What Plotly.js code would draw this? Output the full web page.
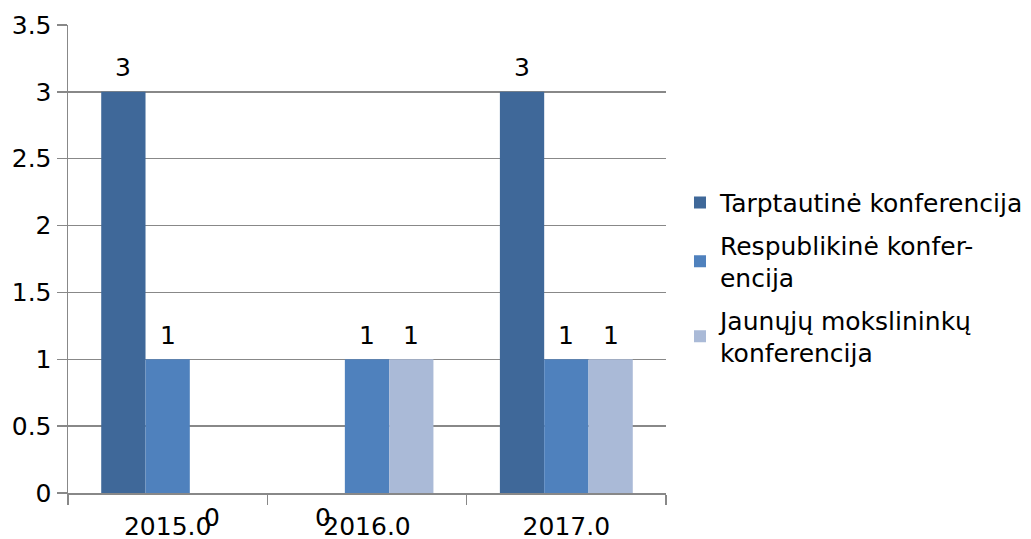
<!DOCTYPE html>
<html>
<head>
<meta charset="utf-8">
<script src="https://cdn.plot.ly/plotly-3.0.1.min.js"></script>
<style>html,body{margin:0;padding:0;background:#fff;}#chart{width:1031px;height:539px;}</style>
</head>
<body>
<div id="chart"></div>
<script>
const categories = ['2015.0', '2016.0', '2017.0'];
const seriesNames = ['Tarptautinė konferencija', 'Respublikinė konfer-<br>encija', 'Jaunųjų mokslininkų<br>konferencija'];
const tarptautine = [3, 0, 3];
const respublikine = [1, 1, 1];
const jaunuju = [0, 1, 1];
const yTicks = [0, 0.5, 1, 1.5, 2, 2.5, 3, 3.5];
const yTickLabels = ['0', '0.5', '1', '1.5', '2', '2.5', '3', '3.5'];

const colors = ['#3F6899', '#4F81BD', '#AABAD7'];
const allSeries = [tarptautine, respublikine, jaunuju];
const font = 'DejaVu Sans, sans-serif';
const fs = 25;
const bargap = 1/3;

const traces = allSeries.map((vals, i) => ({
  type: 'bar',
  name: seriesNames[i],
  legendgroup: 'g' + i,
  x: categories,
  y: vals,
  marker: {color: colors[i], line: {width: 0}},
  hoverinfo: 'skip'
}));

const barW = (1 - bargap) / allSeries.length;
const annotations = [];
allSeries.forEach((vals, i) => {
  vals.forEach((v, j) => {
    annotations.push({
      xref: 'x', yref: 'y',
      x: j - (1 - bargap) / 2 + barW * (i + 0.5),
      y: v,
      text: String(v),
      showarrow: false,
      yanchor: 'middle',
      yshift: v > 0 ? 24 : -24,
      font: {family: font, size: fs, color: '#000'}
    });
  });
});

const layout = {
  width: 1031, height: 539,
  margin: {l: 68, r: 365, t: 25, b: 46, autoexpand: false},
  paper_bgcolor: '#fff', plot_bgcolor: '#fff',
  barmode: 'group', bargap: bargap, bargroupgap: 0,
  font: {family: font, size: fs, color: '#000'},
  xaxis: {
    type: 'category',
    tickson: 'boundaries',
    ticks: 'outside', ticklen: 10, tickcolor: '#888', tickwidth: 1.5,
    ticklabelstandoff: 10,
    showline: true, linecolor: '#888', linewidth: 1.5,
    showgrid: false, zeroline: false,
    tickfont: {family: font, size: fs, color: '#000'}
  },
  yaxis: {
    range: [0, 3.5],
    tickvals: yTicks, ticktext: yTickLabels,
    ticks: 'outside', ticklen: 10, tickcolor: '#888', tickwidth: 1.5,
    showline: true, linecolor: '#888', linewidth: 1.5,
    showgrid: true, gridcolor: '#888', gridwidth: 1.5,
    zeroline: false,
    tickfont: {family: font, size: fs, color: '#000'}
  },
  legend: {
    x: 1.0234, xanchor: 'left', y: 0.46, yanchor: 'middle',
    font: {family: font, size: fs, color: '#000'},
    itemwidth: 30, bgcolor: 'rgba(0,0,0,0)',
    tracegroupgap: 7, traceorder: 'grouped'
  },
  annotations: annotations,
  showlegend: true
};

Plotly.newPlot('chart', traces, layout, {staticPlot: true, displayModeBar: false});
</script>
</body>
</html>
